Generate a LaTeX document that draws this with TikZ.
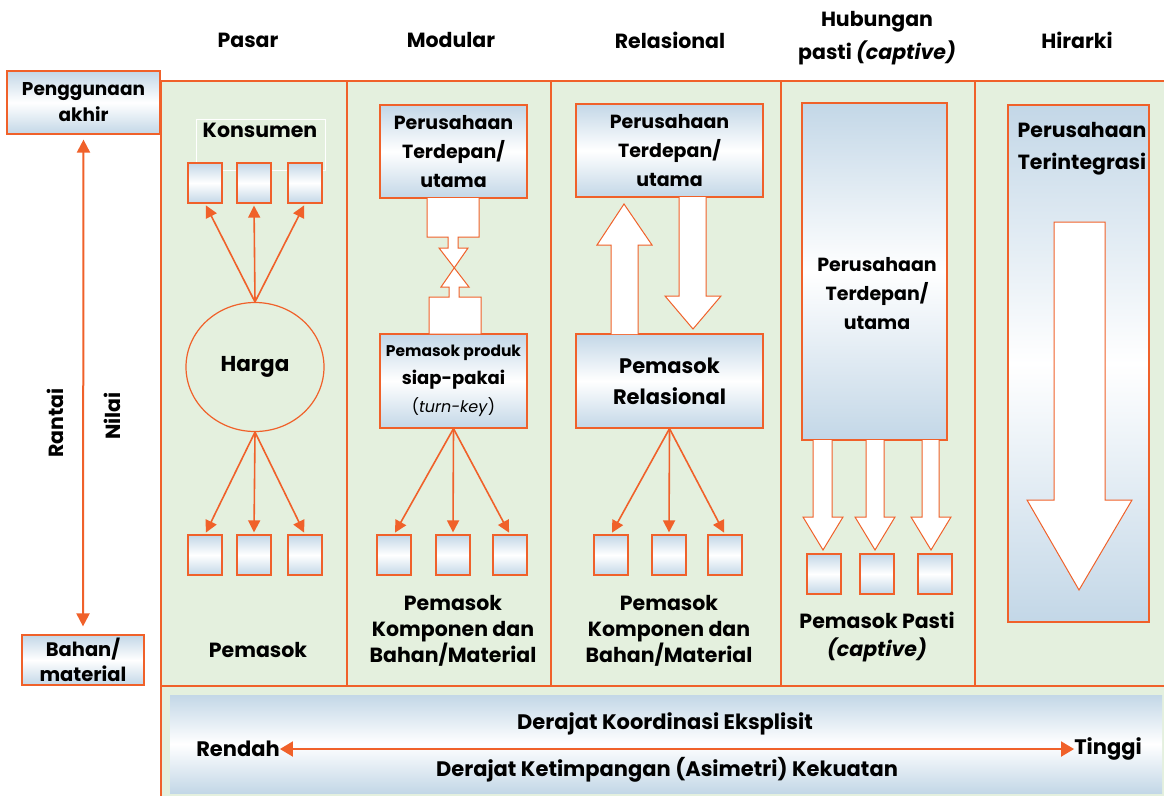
\documentclass[tikz,border=0pt]{standalone}
\usepackage{fontspec}
\setmainfont{Poppins}
\usetikzlibrary{shapes.geometric,arrows.meta}
\definecolor{ora}{HTML}{F0612A}
\definecolor{grn}{HTML}{E4F0DE}
\definecolor{blu}{HTML}{C3D7E7}
\begin{document}
\begin{tikzpicture}[x=1pt,y=-1pt,
 every node/.style={font=\bfseries\fontsize{20.5}{29}\selectfont, align=center, inner sep=0pt},
 bf19/.style={font=\bfseries\fontsize{19}{29}\selectfont},
 bar22/.style={font=\bfseries\fontsize{21}{29}\selectfont},
 gbox/.style={draw=ora, line width=1.2pt, rectangle, top color=blu, bottom color=blu, middle color=white},
 sq/.style={gbox, minimum width=34pt, minimum height=40pt},
 arr/.style={draw=ora, line width=1.6pt, -{Triangle[length=12pt,width=12pt]}, shorten >=2pt},
 blk/.style={draw=ora, line width=1pt, fill=white, line join=miter},
 sep/.style={draw=ora, line width=1.4pt}
]
\useasboundingbox (0,0) rectangle (1164,796);
% panel
\fill[grn] (161,81) rectangle (1164,796);
\draw[sep] (1164,81) -- (161,81) -- (161,796);
\draw[sep] (161,686) -- (1164,686);
\foreach \x in {347,551,781,975} \draw[sep] (\x,81) -- (\x,686);
% headers
\node (h1) at (248,40) {Pasar};
\node (h2) at (451,40) {Modular};
\node (h3) at (670,40) {Relasional};
\node[font=\bfseries\fontsize{20.5}{33}\selectfont] (h4) at (877,38) {Hubungan\\pasti \textit{(captive)}};
\node (h5) at (1077,40) {Hirarki};
% left axis
\node[gbox, minimum width=153pt, minimum height=63pt, font=\bfseries\fontsize{18.5}{28}\selectfont] (pa) at (83.5,102.5) {Penggunaan\\[-2pt]akhir};
\node[gbox, minimum width=122pt, minimum height=50pt, font=\bfseries\fontsize{19.5}{25}\selectfont] (bm) at (83,660) {Bahan/\\material};
\draw[draw=ora, line width=2pt, {Triangle[length=13pt,width=13pt]}-{Triangle[length=13pt,width=13pt]}, shorten >=8pt, shorten <=5pt] (pa.south) -- (bm.north);
\node[rotate=90] (rantai) at (55,423) {Rantai};
\node[rotate=90] (nilai) at (112,416) {Nilai};
% Pasar
\draw[white, line width=0.6pt] (196,119) rectangle (325,170);
\node (kons) at (260,130) {Konsumen};
\node[sq] (k1) at (205,183) {};
\node[sq] (k2) at (254,183) {};
\node[sq] (k3) at (305,183) {};
\node[ellipse, draw=ora, line width=1.2pt, minimum width=138pt, minimum height=129pt, font=\bfseries\fontsize{21.5}{29}\selectfont] (harga) at (255,367) {Harga};
\foreach \k in {k1,k2,k3} \draw[arr] (harga.north) -- (\k.south);
\node[sq] (p1) at (205,555) {};
\node[sq] (p2) at (254,555) {};
\node[sq] (p3) at (305,555) {};
\foreach \k in {p1,p2,p3} \draw[arr] (harga.south) -- (\k.north);
\node (pem1) at (258,650) {Pemasok};
% Modular
\node[gbox, bf19, minimum width=147pt, minimum height=93pt] (mtop) at (453.5,151.5) {Perusahaan\\Terdepan/\\utama};
\node[gbox, minimum width=147pt, minimum height=94pt, font=\bfseries\fontsize{18}{28}\selectfont] (mbot) at (453.5,381) {{\fontsize{15.5}{20}\selectfont Pemasok produk}\\siap-pakai\\{\mdseries\fontsize{16}{20}\selectfont(\textit{turn-key})}};
\draw[blk] (427,198) -- (427,237) -- (448,237) -- (448,248) -- (439,248) -- (469,287) -- (459,287) -- (459,297) -- (481,297) -- (481,334) -- (429,334) -- (429,297) -- (449,297) -- (449,287) -- (441,287) -- (468,248) -- (458,248) -- (458,237) -- (479,237) -- (479,198);
\node[sq] (m1) at (394,555) {};
\node[sq] (m2) at (453,555) {};
\node[sq] (m3) at (510,555) {};
\foreach \k in {m1,m2,m3} \draw[arr] (mbot.south) -- (\k.north);
\node (pem2) at (453,631) {Pemasok\\[-3pt]Komponen dan\\[-3pt]Bahan/Material};
% Relational
\node[gbox, bf19, minimum width=187pt, minimum height=93pt] (rtop) at (669.5,150.5) {Perusahaan\\Terdepan/\\utama};
\node[gbox, minimum width=187pt, minimum height=94pt, font=\bfseries\fontsize{21}{31}\selectfont] (rbot) at (669.5,381) {Pemasok\\Relasional};
\draw[blk] (611,334) -- (611,245) -- (597,245) -- (624,204) -- (652,245) -- (638,245) -- (638,334);
\draw[blk] (679,197) -- (679,296) -- (665,296) -- (693,329) -- (721,296) -- (706,296) -- (706,197);
\node[sq] (r1) at (611,555) {};
\node[sq] (r2) at (669,555) {};
\node[sq] (r3) at (725,555) {};
\foreach \k in {r1,r2,r3} \draw[arr] (rbot.south) -- (\k.north);
\node (pem3) at (669,631) {Pemasok\\[-3pt]Komponen dan\\[-3pt]Bahan/Material};
% Captive
\node[gbox, minimum width=145pt, minimum height=337pt] (ctop) at (874.5,271.5) {};
\node[bf19] (ctxt) at (877,294) {Perusahaan\\Terdepan/\\utama};
\foreach \a/\b/\c in {813/832/823,866/884/875,922/939/931}{
  \draw[blk] (\a,440) -- (\a,517) -- (\c-20,517) -- (\c,550) -- (\c+20,517) -- (\b,517) -- (\b,440);
}
\node[sq] (c1) at (824,574) {};
\node[sq] (c2) at (877,574) {};
\node[sq] (c3) at (935,574) {};
\node (pem4) at (877,637) {Pemasok Pasti\\[-1pt]\textit{(captive)}};
% Hirarki
\node[gbox, minimum width=141pt, minimum height=517pt] (hbox) at (1078.5,363.5) {};
\node (htxt) at (1082,149) {Perusahaan\\[3pt]Terintegrasi};
\draw[blk] (1054,222) -- (1054,500) -- (1027,500) -- (1079,590) -- (1132,500) -- (1105,500) -- (1105,222) -- cycle;
% bottom bar
\node[gbox, draw=none, minimum width=992pt, minimum height=98pt] (bar) at (666,744) {};
\node[bar22] (dk) at (665,724) {Derajat Koordinasi Eksplisit};
\node[bar22] (dt) at (667,770) {Derajat Ketimpangan (Asimetri) Kekuatan};
\node[bar22] (rendah) at (238,749) {Rendah};
\node[bar22] (tinggi) at (1108,749) {Tinggi};
\draw[draw=ora, line width=2pt, {Triangle[length=13pt,width=15pt]}-{Triangle[length=13pt,width=15pt]}] (rendah.east) -- (tinggi.west);
\end{tikzpicture}
\end{document}
